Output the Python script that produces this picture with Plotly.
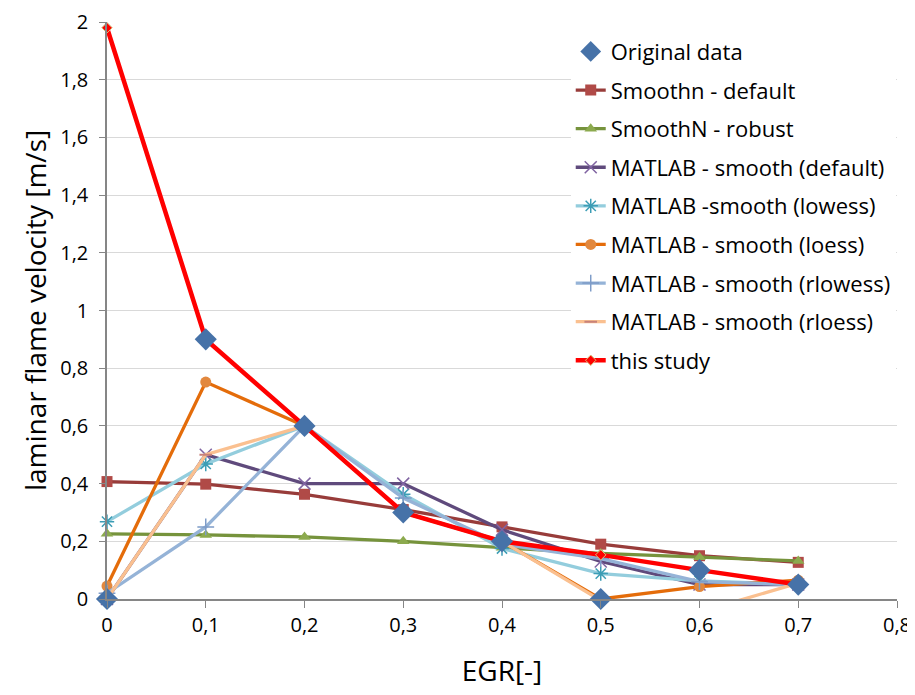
import plotly.graph_objects as go

egr = [0, 0.1, 0.2, 0.3, 0.4, 0.5, 0.6, 0.7]

original = [0, 0.9, 0.6, 0.3, 0.2, 0, 0.1, 0.05]
smoothn_default = [0.407, 0.398, 0.363, 0.31, 0.25, 0.19, 0.15, 0.127]
smoothn_robust = [0.226, 0.222, 0.215, 0.2, 0.178, 0.158, 0.145, 0.132]
matlab_default = [0, 0.5, 0.4, 0.4, 0.24, 0.13, 0.05, 0.05]
matlab_lowess = [0.268, 0.468, 0.6, 0.363, 0.175, 0.088, 0.063, 0.05]
matlab_loess = [0.045, 0.752, 0.6, 0.3, 0.2, 0.0, 0.043, 0.065]
matlab_rlowess = [0.02, 0.25, 0.6, 0.35, 0.19, 0.14, 0.06, 0.05]
matlab_rloess = [0, 0.5, 0.6, 0.3, 0.2, -0.005, -0.045, 0.055]
this_study = [1.98, 0.9, 0.6, 0.3, 0.2, 0.153, 0.1, 0.05]

FONT = "Open Sans, Carlito, Calibri, sans-serif"

fig = go.Figure()

def add_line(name, y, lcolor, lwidth, msym, msize, mcolor, mline=None, rank=0):
    fig.add_trace(go.Scatter(
        x=egr, y=y, name=name, mode="lines+markers",
        line=dict(color=lcolor, width=lwidth),
        marker=dict(symbol=msym, size=msize, color=mcolor,
                    line=mline if mline else dict(width=0)),
        cliponaxis=False, legendrank=rank, legendgroup=name,
    ))

add_line("Smoothn - default", smoothn_default, "#983C3A", 3.3, "square", 11, "#B04A47", rank=2)
add_line("SmoothN - robust", smoothn_robust, "#76933C", 3.3, "triangle-up", 11, "#8CAA4E", rank=3)
add_line("MATLAB - smooth (default)", matlab_default, "#5F4A7C", 3.3, "x-thin-open", 12, "#8064A2",
         mline=dict(width=1.5, color="#8064A2"), rank=4)
add_line("MATLAB -smooth (lowess)", matlab_lowess, "#93CDDD", 3.3, "asterisk-open", 12, "#3C9DB5",
         mline=dict(width=1.5, color="#3C9DB5"), rank=5)
add_line("MATLAB - smooth (loess)", matlab_loess, "#E46C0A", 3.3, "circle", 11, "#E2883E", rank=6)
add_line("MATLAB - smooth (rlowess)", matlab_rlowess, "#95B3D7", 3.3, "cross-thin-open", 12, "#7E9CC8",
         mline=dict(width=1.5, color="#7E9CC8"), rank=7)
add_line("MATLAB - smooth (rloess)", matlab_rloess, "#FAC090", 3.3, "line-ew-open", 9, "#C8827A",
         mline=dict(width=2, color="#C8827A"), rank=8)
add_line("this study", this_study, "#FF0000", 4.5, "diamond", 8, "#FF0000",
         mline=dict(width=1, color="#D6C27A"), rank=9)

fig.add_trace(go.Scatter(
    x=egr, y=original, name="Original data", mode="markers",
    marker=dict(symbol="diamond", size=17, color="#4672A8"),
    cliponaxis=False, legendrank=1, legendgroup="Original data",
))

fig.update_layout(
    width=907, height=687,
    paper_bgcolor="white", plot_bgcolor="white",
    separators=",.",
    margin=dict(l=99, r=18, t=14, b=96),
    font=dict(family=FONT, color="#000000", size=20),
    showlegend=True,
    legend=dict(
        x=0.587, y=0.985, xanchor="left", yanchor="top",
        bgcolor="white", font=dict(size=22, family=FONT),
        traceorder="grouped", tracegroupgap=7,
        itemwidth=30,
    ),
    xaxis=dict(
        range=[0, 0.8], tickvals=[0, 0.1, 0.2, 0.3, 0.4, 0.5, 0.6, 0.7, 0.8],
        showgrid=False, zeroline=False, automargin=False,
        showline=True, linecolor="#868686", linewidth=1.5,
        ticks="outside", ticklen=7, tickcolor="#868686",
        tickfont=dict(size=20),
        title=dict(text="EGR[-]", font=dict(size=28), standoff=25),
    ),
    yaxis=dict(
        range=[0, 2], tickvals=[0, 0.2, 0.4, 0.6, 0.8, 1, 1.2, 1.4, 1.6, 1.8, 2],
        showgrid=True, gridcolor="#D9D9D9", gridwidth=1.2, zeroline=False, automargin=False,
        showline=True, linecolor="#868686", linewidth=1.5,
        ticks="outside", ticklen=6, tickcolor="#868686",
        tickfont=dict(size=20), ticklabelstandoff=7,
        title=dict(text="laminar flame velocity [m/s]", font=dict(size=28), standoff=5),
    ),
)

fig.write_html("out.html")
